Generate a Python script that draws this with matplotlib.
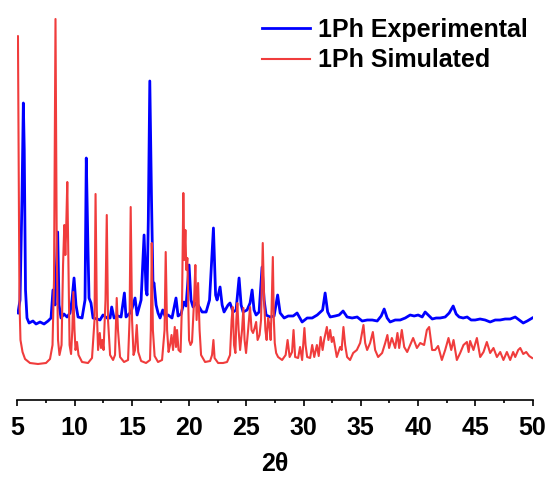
import matplotlib
matplotlib.use("Agg")
import matplotlib.pyplot as plt
from matplotlib.ticker import MultipleLocator

# PXRD patterns (2theta in degrees, intensity in arbitrary units)
exp_2theta = [5.04, 5.22, 5.39, 5.51, 5.59, 5.70, 5.83, 6.01, 6.35, 6.62, 6.97, 7.32, 7.67, 7.93,
              8.10, 8.28, 8.51, 8.63, 8.80, 9.06, 9.33, 9.59, 9.76, 9.94, 10.11, 10.29, 10.64,
              10.90, 11.01, 11.16, 11.25, 11.42, 11.60, 11.95, 12.21, 12.47, 12.82, 13.09, 13.23,
              13.44, 13.78, 14.05, 14.34, 14.48, 14.92, 15.27, 15.45, 15.80, 16.06, 16.23, 16.32,
              16.43, 16.56, 16.71, 16.84, 16.93, 17.11, 17.28, 17.46, 17.69, 17.89, 18.16, 18.50,
              18.85, 19.03, 19.29, 19.55, 19.73, 19.99, 20.16, 20.34, 20.60, 20.78, 21.13, 21.48,
              21.78, 22.12, 22.31, 22.44, 22.70, 22.88, 23.05, 23.40, 23.57, 23.84, 24.10, 24.36,
              24.54, 24.71, 25.06, 25.32, 25.50, 25.67, 25.85, 26.11, 26.37, 26.55, 26.72, 27.07,
              27.42, 27.73, 27.95, 28.30, 28.65, 29.09, 29.43, 29.87, 30.31, 30.75, 31.19, 31.66,
              31.88, 32.10, 32.32, 32.75, 33.10, 33.45, 33.80, 34.24, 34.68, 35.12, 35.56, 36.00,
              36.43, 36.78, 37.04, 37.30, 37.56, 38.00, 38.44, 38.88, 39.31, 39.66, 40.01, 40.36,
              40.62, 40.89, 41.24, 41.58, 41.93, 42.37, 42.72, 43.07, 43.33, 43.59, 43.94, 44.29,
              44.64, 44.99, 45.42, 45.86, 46.30, 46.74, 47.17, 47.61, 48.05, 48.49, 48.84, 49.19,
              49.54, 49.98]
exp_int = [87, 100, 200, 297, 250, 110, 82, 77, 79, 76, 78, 76, 79, 82,
           110, 95, 168, 95, 82, 86, 83, 87, 100, 122, 95, 83, 82,
           100, 242, 150, 102, 97, 82, 81, 80, 85, 82, 82, 93,
           82, 84, 83, 107, 83, 88, 102, 85, 100, 165, 110, 105,
           180, 319, 200, 115, 117, 95, 87, 82, 90, 84, 85, 82,
           102, 84, 86, 98, 94, 135, 100, 93, 97, 95, 88, 88,
           100, 172, 105, 100, 113, 95, 88, 95, 97, 88, 90, 122,
           95, 88, 90, 97, 110, 90, 85, 88, 133, 100, 85, 83,
           84, 105, 87, 82, 84, 84, 87, 78, 82, 82, 85, 90,
           107, 88, 83, 84, 85, 89, 83, 82, 83, 79, 80, 80,
           79, 84, 91, 82, 78, 80, 80, 82, 85, 84, 85, 83,
           88, 85, 81, 82, 82, 83, 87, 94, 86, 83, 82, 83,
           80, 80, 81, 80, 78, 80, 80, 81, 81, 83, 80, 77,
           79, 82]

sim_2theta = [5.00, 5.04, 5.10, 5.17, 5.26, 5.44, 5.66, 6.09, 6.79, 7.49, 7.84, 8.06, 8.19, 8.32,
              8.43, 8.54, 8.67, 8.85, 8.98, 9.09, 9.18, 9.24, 9.35, 9.46, 9.55, 9.68, 9.79, 9.88,
              9.98, 10.07, 10.20, 10.33, 10.64, 11.16, 11.51, 11.73, 11.82, 11.93, 12.04, 12.19,
              12.30, 12.41, 12.52, 12.69, 12.80, 12.91, 13.09, 13.35, 13.52, 13.67, 13.78, 13.96,
              14.31, 14.66, 14.79, 14.89, 15.01, 15.14, 15.27, 15.42, 15.55, 15.80, 16.23, 16.58,
              16.65, 16.73, 16.83, 16.98, 17.28, 17.63, 17.85, 17.95, 18.07, 18.20, 18.33, 18.46,
              18.59, 18.74, 18.85, 18.94, 19.07, 19.25, 19.38, 19.49, 19.58, 19.67, 19.75, 19.84,
              19.99, 20.12, 20.25, 20.43, 20.54, 20.65, 20.78, 20.91, 21.04, 21.39, 21.83, 22.00,
              22.12, 22.22, 22.53, 22.96, 23.31, 23.57, 23.71, 23.81, 23.92, 24.04, 24.12, 24.21,
              24.32, 24.45, 24.62, 24.74, 24.84, 24.97, 25.15, 25.32, 25.45, 25.58, 25.72, 25.85,
              25.98, 26.15, 26.28, 26.43, 26.55, 26.66, 26.77, 26.90, 27.01, 27.12, 27.20, 27.31,
              27.40, 27.48, 27.60, 27.77, 28.12, 28.43, 28.60, 28.78, 28.99, 29.12, 29.26, 29.52,
              29.69, 29.87, 30.00, 30.07, 30.17, 30.31, 30.57, 30.75, 30.93, 31.16, 31.32, 31.49,
              31.66, 31.79, 32.03, 32.17, 32.32, 32.46, 32.60, 32.90, 33.19, 33.32, 33.48, 33.63,
              33.80, 34.06, 34.33, 34.65, 34.94, 35.23, 35.38, 35.55, 35.81, 36.05, 36.25, 36.51,
              36.86, 37.13, 37.32, 37.47, 37.71, 38.00, 38.20, 38.35, 38.58, 38.79, 39.05, 39.31,
              39.57, 39.90, 40.19, 40.53, 40.77, 40.97, 41.23, 41.49, 41.75, 42.08, 42.37, 42.66,
              42.90, 43.10, 43.39, 43.68, 43.97, 44.27, 44.42, 44.55, 44.84, 45.14, 45.43, 45.72,
              46.01, 46.30, 46.59, 46.89, 47.18, 47.46, 47.76, 48.05, 48.31, 48.49, 48.75, 48.93,
              49.19, 49.45, 49.71, 49.97]
sim_int = [360, 364, 250, 100, 60, 48, 41, 37, 36, 37, 41, 55, 120, 381,
           150, 60, 45, 55, 135, 175, 145, 165, 218, 130, 55, 46, 70, 108,
           70, 50, 58, 45, 38, 37, 42, 80, 206, 90, 50, 67,
           52, 60, 50, 100, 185, 80, 45, 40, 45, 102, 70, 43,
           38, 40, 80, 193, 80, 45, 50, 75, 48, 39, 37, 40,
           70, 157, 70, 44, 38, 40, 70, 148, 70, 48, 55, 65,
           50, 73, 53, 70, 50, 48, 100, 207, 140, 170, 130, 142,
           60, 55, 58, 100, 135, 80, 117, 70, 45, 38, 39, 45,
           60, 42, 37, 37, 38, 45, 80, 93, 55, 47, 80, 97,
           70, 50, 70, 92, 60, 47, 70, 93, 70, 67, 72, 78,
           60, 65, 80, 157, 100, 70, 60, 82, 75, 60, 90, 143,
           80, 57, 47, 43, 40, 45, 60, 43, 48, 70, 43, 42,
           53, 40, 60, 72, 55, 43, 42, 55, 43, 55, 44, 63,
           50, 60, 73, 60, 70, 58, 63, 43, 53, 50, 73, 55,
           43, 40, 47, 50, 57, 75, 57, 50, 57, 68, 50, 43,
           47, 57, 65, 52, 62, 52, 67, 52, 70, 53, 48, 55,
           62, 52, 57, 55, 70, 73, 50, 50, 54, 40, 50, 62,
           50, 60, 40, 47, 55, 58, 48, 59, 50, 62, 43, 48,
           58, 47, 52, 43, 48, 40, 48, 40, 48, 43, 50, 52,
           46, 48, 44, 42]

x_ticks = [5, 10, 15, 20, 25, 30, 35, 40, 45, 50]

plt.rcParams['font.family'] = ['Liberation Sans', 'DejaVu Sans']
plt.rcParams['font.weight'] = 'bold'

fig = plt.figure(figsize=(5.5, 4.79), dpi=100)
ax = fig.add_axes([17.5 / 550, 79 / 479, 515 / 550, 390 / 479])

ax.plot(exp_2theta, exp_int, color='#0000ff', linewidth=2.0, label='1Ph Experimental')
ax.plot(sim_2theta, sim_int, color='#f03c3c', linewidth=1.5, label='1Ph Simulated')

ax.set_xlim(5, 50)
ax.set_ylim(0, 390)
ax.set_xticks(x_ticks)
ax.xaxis.set_minor_locator(MultipleLocator(2.5))
ax.set_yticks([])
for side in ['left', 'right', 'top']:
    ax.spines[side].set_visible(False)
ax.spines['bottom'].set_linewidth(1.2)
ax.tick_params(axis='x', which='major', direction='out', length=4.5, width=1.2,
               labelsize=18, pad=7)
ax.tick_params(axis='x', which='minor', direction='out', length=2.5, width=1.2)
for lab in ax.get_xticklabels():
    lab.set_fontweight('bold')

ax.set_xlabel('2θ', fontsize=18, fontweight='bold', labelpad=9)

leg = ax.legend(loc='upper left', bbox_to_anchor=(262 / 550, 1 - 18 / 479),
                bbox_transform=fig.transFigure, frameon=False, borderpad=0,
                borderaxespad=0, handlelength=1.92, handletextpad=0.32,
                labelspacing=0.25, prop={'size': 18, 'weight': 'bold'})

fig.savefig('out.png', dpi=100)
